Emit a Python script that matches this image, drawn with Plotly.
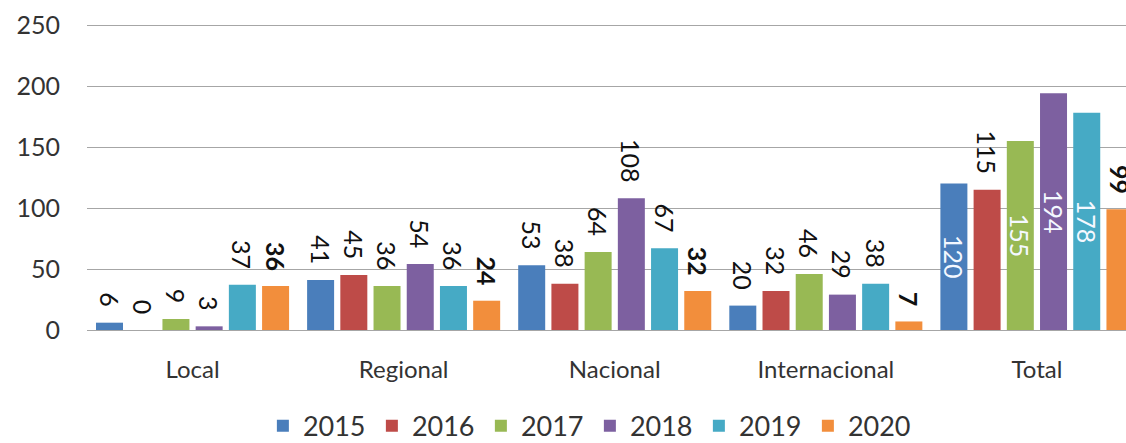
import plotly.graph_objects as go

categories = ["Local", "Regional", "Nacional", "Internacional", "Total"]
years = ["2015", "2016", "2017", "2018", "2019", "2020"]
v2015 = [6, 41, 53, 20, 120]
v2016 = [0, 45, 38, 32, 115]
v2017 = [9, 36, 64, 46, 155]
v2018 = [3, 54, 108, 29, 194]
v2019 = [37, 36, 67, 38, 178]
v2020 = [36, 24, 32, 7, 99]
series = [v2015, v2016, v2017, v2018, v2019, v2020]
colors = ["#4A7EBB", "#BE4B48", "#98B954", "#7D60A0", "#46AAC5", "#F28E3C"]
inside_total = {"2015": True, "2016": False, "2017": True, "2018": True, "2019": True, "2020": False}

FONT = "Lato"
PAD = "\u00a0" * 2

fig = go.Figure()
for yr, vals, col in zip(years, series, colors):
    texts, positions = [], []
    for i, v in enumerate(vals):
        if categories[i] == "Total" and inside_total[yr]:
            texts.append(str(v))
            positions.append("inside")
        else:
            texts.append(str(v) + PAD)
            positions.append("outside")
    fig.add_trace(go.Bar(
        name=yr, x=categories, y=vals, marker=dict(color=col, line=dict(width=0)),
        text=texts, textposition=positions, textangle=90,
        outsidetextfont=dict(family=FONT, size=25, color="#111111",
                             weight="bold" if yr == "2020" else "normal"),
        insidetextfont=dict(family=FONT, size=25, color="#F4F8FF"),
        constraintext="none", cliponaxis=True, insidetextanchor="middle",
    ))

fig.update_layout(
    width=1126, height=456,
    margin=dict(l=87, r=0, t=22, b=126),
    barmode="group", bargap=0.056, bargroupgap=0.187,
    plot_bgcolor="white", paper_bgcolor="white",
    font=dict(family=FONT, size=24, color="#333333"),
    showlegend=True,
    legend=dict(orientation="h", x=0.484, xanchor="center", y=-0.392, yanchor="bottom",
                font=dict(family=FONT, size=27, color="#333333"),
                itemwidth=30, entrywidth=64, traceorder="normal"),
)
fig.update_xaxes(range=[-0.5, 4.422], automargin=False, showgrid=False, showline=True,
                 linecolor="#A6A6A6", linewidth=1, ticks="",
                 tickfont=dict(family=FONT, size=24, color="#333333"),
                 ticklabelstandoff=18)
fig.update_yaxes(range=[0, 252.46], automargin=False, dtick=50, showgrid=True,
                 gridcolor="#A6A6A6", gridwidth=1,
                 zeroline=False, showline=False, ticks="",
                 tickfont=dict(family=FONT, size=25, color="#333333"),
                 ticklabelstandoff=26)

fig.write_html(
    "out.html",
    config={"displayModeBar": False},
    post_script="document.body.style.margin='0';document.body.style.overflow='hidden';"
                "document.documentElement.style.overflow='hidden';",
)
